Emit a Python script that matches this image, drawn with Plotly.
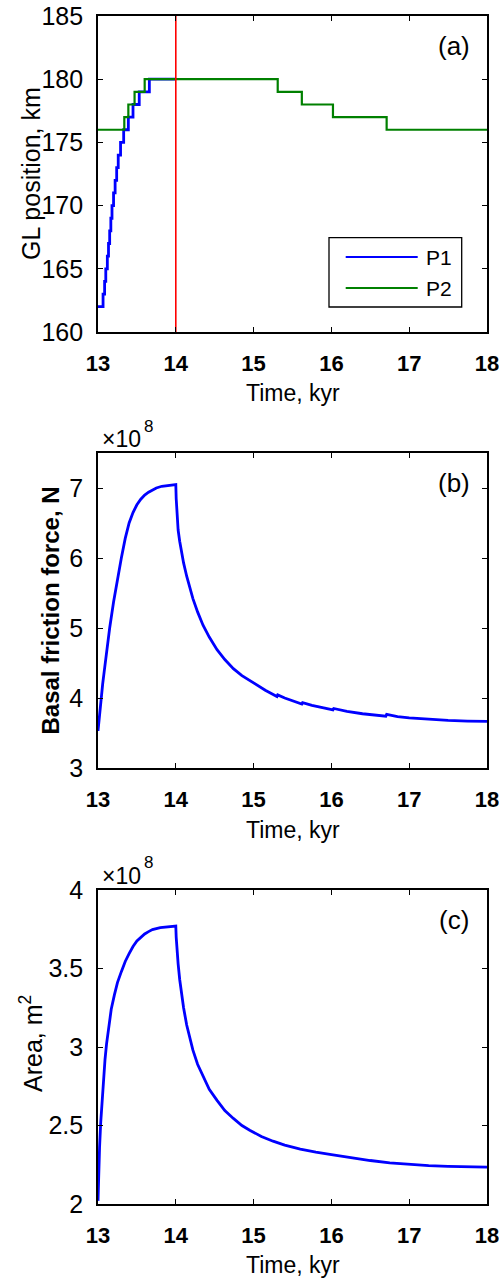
import plotly.graph_objects as go

# panel (a): grounding line position, km (step changes)
p1_time = [13.0, 13.065, 13.085, 13.10, 13.12, 13.135, 13.15, 13.165, 13.18, 13.20, 13.22,
           13.24, 13.26, 13.29, 13.33, 13.39, 13.45, 13.53, 13.66, 14.0]
p1_gl = [162, 163, 164, 165, 166, 167, 168, 169, 170, 171, 172,
         173, 174, 175, 176, 177, 178, 179, 180, 180]
p2_time = [13.0, 13.338, 13.39, 13.47, 13.60, 15.31, 15.62, 16.02, 16.71, 18.0]
p2_gl = [176, 177, 178, 179, 180, 179, 178, 177, 176, 176]
event_time = [14.0, 14.0]
event_gl = [160, 185]

# panel (b): basal friction force, x1e8 N
fric_time = [13.0, 13.01, 13.02, 13.04, 13.06, 13.08, 13.11, 13.15, 13.20, 13.25, 13.30,
             13.35, 13.40, 13.45, 13.50, 13.55, 13.60, 13.65, 13.70, 13.75, 13.82, 13.90,
             14.0, 14.005, 14.015, 14.03, 14.05, 14.07, 14.10, 14.14, 14.18, 14.22, 14.28,
             14.35, 14.43, 14.53, 14.63, 14.74, 14.85, 14.95, 15.05, 15.15, 15.30, 15.31,
             15.40, 15.50, 15.62, 15.63, 15.75, 15.90, 16.02, 16.03, 16.20, 16.40, 16.55,
             16.70, 16.71, 16.85, 17.0, 17.25, 17.5, 17.75, 18.0]
fric = [3.53, 3.66, 3.78, 4.00, 4.20, 4.38, 4.65, 5.00, 5.37, 5.70, 6.00,
        6.28, 6.50, 6.65, 6.76, 6.84, 6.90, 6.94, 6.975, 7.00, 7.025, 7.04,
        7.05, 6.85, 6.60, 6.40, 6.24, 6.10, 5.93, 5.74, 5.57, 5.42, 5.23,
        5.04, 4.87, 4.69, 4.55, 4.42, 4.32, 4.25, 4.18, 4.11, 4.02, 4.045,
        4.00, 3.96, 3.915, 3.935, 3.895, 3.86, 3.83, 3.85, 3.81, 3.775, 3.755,
        3.74, 3.765, 3.735, 3.715, 3.695, 3.68, 3.67, 3.665]

# panel (c): area, x1e8 m^2
area_time = [13.0, 13.005, 13.01, 13.02, 13.035, 13.05, 13.07, 13.09, 13.11, 13.14, 13.17,
             13.21, 13.25, 13.30, 13.35, 13.40, 13.45, 13.50, 13.55, 13.60, 13.65, 13.70,
             13.80, 13.90, 14.0, 14.005, 14.015, 14.03, 14.05, 14.07, 14.10, 14.14, 14.18,
             14.22, 14.28, 14.35, 14.43, 14.53, 14.63, 14.74, 14.85, 14.95, 15.10, 15.25,
             15.40, 15.60, 15.80, 16.0, 16.25, 16.5, 16.75, 17.0, 17.25, 17.5, 17.75, 18.0]
area = [2.02, 2.12, 2.21, 2.36, 2.52, 2.65, 2.80, 2.92, 3.02, 3.14, 3.24,
        3.33, 3.41, 3.48, 3.545, 3.595, 3.64, 3.675, 3.70, 3.72, 3.735, 3.748,
        3.76, 3.767, 3.77, 3.70, 3.62, 3.53, 3.43, 3.35, 3.25, 3.14, 3.05,
        2.98, 2.89, 2.81, 2.73, 2.66, 2.595, 2.545, 2.50, 2.47, 2.43, 2.40,
        2.375, 2.35, 2.33, 2.315, 2.295, 2.277, 2.262, 2.252, 2.245, 2.24, 2.237, 2.235]

x_ticks = [13, 14, 15, 16, 17, 18]
FONT = "Liberation Sans, Arial, sans-serif"
W, H = 499, 1278

def px(x):
    return x / W

def py(y):
    return 1 - y / H

fig = go.Figure()
fig.add_trace(go.Scatter(x=p1_time, y=p1_gl, mode="lines", name="P1", line_shape="hv",
                         line=dict(color="#0000ff", width=2.8), showlegend=False))
fig.add_trace(go.Scatter(x=p2_time, y=p2_gl, mode="lines", name="P2", line_shape="hv",
                         line=dict(color="#008000", width=2.2), showlegend=False))
fig.add_trace(go.Scatter(x=event_time, y=event_gl, mode="lines", line=dict(color="#ff0000", width=1.6),
                         showlegend=False))
fig.add_trace(go.Scatter(x=fric_time, y=fric, mode="lines", xaxis="x2", yaxis="y2",
                         line=dict(color="#0000ff", width=2.8), showlegend=False))
fig.add_trace(go.Scatter(x=area_time, y=area, mode="lines", xaxis="x3", yaxis="y3",
                         line=dict(color="#0000ff", width=2.8), showlegend=False))

xdom = [px(98), px(487)]
ydoms = [[py(332), py(16)], [py(768), py(453)], [py(1204), py(890)]]

def xax(anchor):
    return dict(domain=xdom, anchor=anchor, range=[13, 18], tickvals=x_ticks, automargin=False,
                ticks="inside", ticklen=5, tickwidth=1.3, tickcolor="black", ticklabelstandoff=11,
                ticklabeloverflow="allow",
                showline=True, linecolor="black", linewidth=1.6, mirror="ticks",
                showgrid=False, zeroline=False,
                tickfont=dict(family=FONT, size=22, color="black", weight="bold"))

def yax(anchor, dom, rng, vals):
    return dict(domain=dom, anchor=anchor, range=rng, tickvals=vals, automargin=False,
                ticks="inside", ticklen=5, tickwidth=1.3, tickcolor="black", ticklabelstandoff=8,
                ticklabeloverflow="allow",
                showline=True, linecolor="black", linewidth=1.6, mirror="ticks",
                showgrid=False, zeroline=False,
                tickfont=dict(family=FONT, size=25, color="black"))

fig.update_layout(
    width=W, height=H, paper_bgcolor="white", plot_bgcolor="white",
    margin=dict(l=0, r=0, t=0, b=0, autoexpand=False), showlegend=False,
    xaxis=xax("y"), xaxis2=xax("y2"), xaxis3=xax("y3"),
    yaxis=yax("x", ydoms[0], [160, 185], [160, 165, 170, 175, 180, 185]),
    yaxis2=yax("x2", ydoms[1], [3, 7.5], [3, 4, 5, 6, 7]),
    yaxis3=yax("x3", ydoms[2], [2, 4], [2, 2.5, 3, 3.5, 4]),
)

# axis titles
for yc in [393.5, 829.5, 1265]:
    fig.add_annotation(text="Time, kyr", xref="paper", yref="paper", x=px(292.5), y=py(yc),
                       xanchor="center", yanchor="middle", showarrow=False,
                       font=dict(family=FONT, size=23, color="black"))
for txt, xc, yc, sz, wt in [("GL position, km", 31, 174, 25, "normal"),
                            ("Basal friction force, N", 50, 610.5, 24, "bold"),
                            ("Area, m<sup>2</sup>", 31, 1044, 25, "normal")]:
    fig.add_annotation(text=txt, xref="paper", yref="paper", x=px(xc), y=py(yc), textangle=-90,
                       xanchor="center", yanchor="middle", showarrow=False,
                       font=dict(family=FONT, size=sz, color="black", weight=wt))

# panel letters
for i, lab in enumerate(["(a)", "(b)", "(c)"]):
    sfx = "" if i == 0 else str(i + 1)
    fig.add_annotation(text=lab, xref="x" + sfx + " domain", yref="y" + sfx + " domain",
                       x=0.914, y=0.905, xanchor="center", yanchor="middle", showarrow=False,
                       font=dict(family=FONT, size=26, color="black"))

# exponent labels (x10 with raised 8) above panels (b) and (c)
for base_y, exp_y in [(454, 438), (890.5, 874)]:
    fig.add_annotation(text="\u00d710", xref="paper", yref="paper", x=px(100), y=py(base_y),
                       xanchor="left", yanchor="bottom", showarrow=False,
                       font=dict(family=FONT, size=23, color="black"))
    fig.add_annotation(text="8", xref="paper", yref="paper", x=px(142), y=py(exp_y),
                       xanchor="left", yanchor="bottom", showarrow=False,
                       font=dict(family=FONT, size=17, color="black"))

# legend box for panel (a)
fig.add_shape(type="rect", xref="paper", yref="paper", x0=px(329), x1=px(461.7),
              y0=py(307), y1=py(237.7), line=dict(color="black", width=1.3),
              fillcolor="white", layer="above")
for nm, col, yy in [("P1", "#0000ff", 257), ("P2", "#008000", 288)]:
    fig.add_shape(type="line", xref="paper", yref="paper", x0=px(345.7), x1=px(417.7),
                  y0=py(yy), y1=py(yy), line=dict(color=col, width=2.2), layer="above")
    fig.add_annotation(text=nm, xref="paper", yref="paper", x=px(424), y=py(yy),
                       xanchor="left", yanchor="middle", showarrow=False,
                       font=dict(family=FONT, size=21, color="black"))

# drop the default 8px page margin so the figure fills the window exactly
fig.write_html("out.html", config={"displayModeBar": False},
               post_script="document.body.style.margin='0px';")
